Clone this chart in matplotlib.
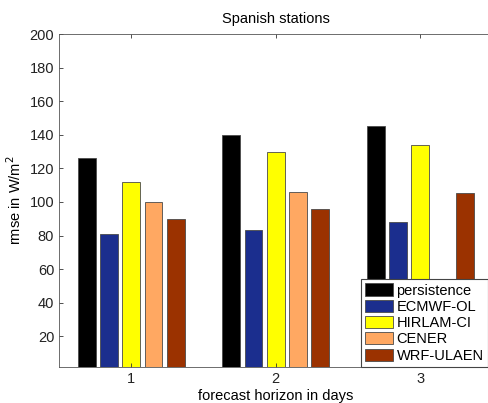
import matplotlib.pyplot as plt
import numpy as np

plt.rcParams['font.family'] = ['Liberation Sans', 'DejaVu Sans']
plt.rcParams['font.size'] = 10.5

horizons = [1, 2, 3]
models = ['persistence', 'ECMWF-OL', 'HIRLAM-CI', 'CENER', 'WRF-ULAEN']
persistence = [126, 140, 145]
ecmwf = [81, 83.5, 88]
hirlam = [112, 130, 134]
cener = [100, 106, np.nan]
wrf = [90, 96, 105.5]
colors = ['#000000', '#1b2e8e', '#ffff00', '#ffa862', '#9b3200']

series = [persistence, ecmwf, hirlam, cener, wrf]

fig = plt.figure(figsize=(4.89, 4.03), dpi=100)
ax = fig.add_axes([59 / 489, (403 - 367) / 403, (492.5 - 59) / 489, (367 - 34) / 403])

x = np.array(horizons)
step = 0.154
width = 0.124
for i, (vals, name, col) in enumerate(zip(series, models, colors)):
    ax.bar(x + (i - 2) * step, vals, width, color=col, edgecolor='#4a4a4a',
           linewidth=0.6, label=name)

ax.set_xlim(0.5, 3.5)
ax.set_ylim(1.7, 200)
ax.set_xticks(horizons)
ax.set_yticks(range(20, 201, 20))
ax.tick_params(direction='in', top=True, right=True, length=3, width=0.6,
               colors='#333333', labelcolor='#222222')
for s in ax.spines.values():
    s.set_linewidth(0.6)
    s.set_color('#555555')

ax.set_title('Spanish stations', fontsize=10.5, pad=8)
ax.set_xlabel('forecast horizon in days', labelpad=2)
ax.set_ylabel('rmse in W/m$^2$')

leg = ax.legend(loc='lower right',
                bbox_to_anchor=(364 / 489, 36 / 403, (488 - 364) / 489, 0.5),
                bbox_transform=fig.transFigure, fancybox=False, framealpha=1,
                edgecolor='#444444', handlelength=1.9, handleheight=0.9,
                handletextpad=0.25, labelspacing=0.15, borderpad=0.3,
                borderaxespad=0, fontsize=10.5)
leg.get_frame().set_linewidth(0.8)

plt.savefig('out.png', dpi=100)
